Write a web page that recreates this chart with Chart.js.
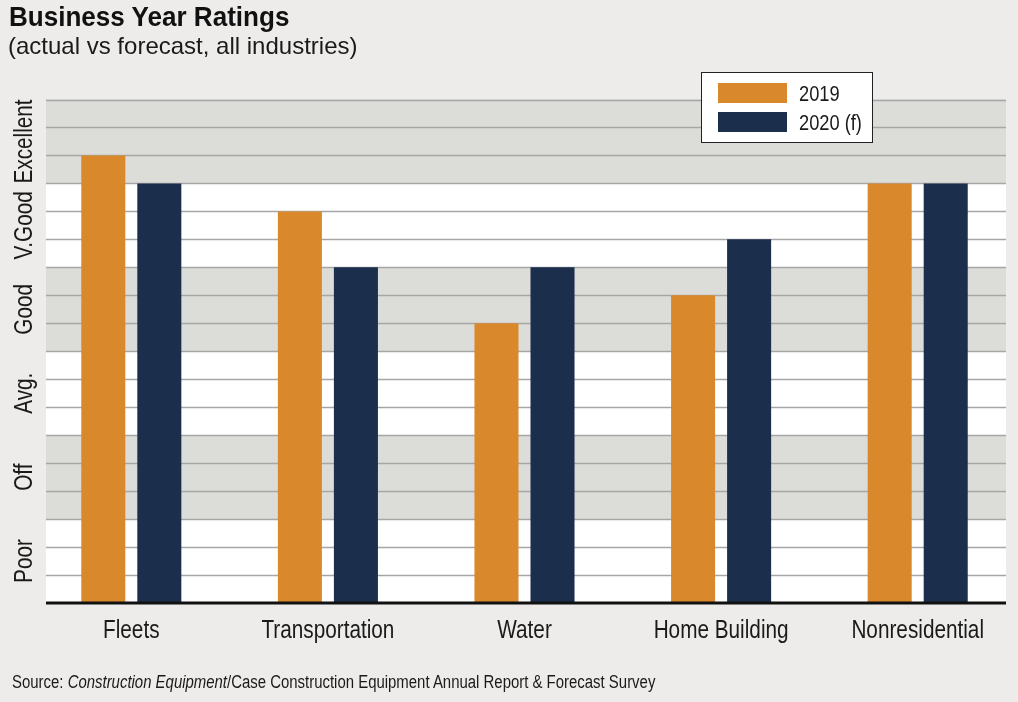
<!DOCTYPE html>
<html>
<head>
<meta charset="utf-8">
<script src="https://cdn.jsdelivr.net/npm/chart.js@4"></script>
<style>
  body { margin: 0; background: #edecea; }
  #wrap { position: relative; width: 1018px; height: 702px; overflow: hidden; }
  #grafico { position: absolute; left: 0; top: 0; }
  .titulo, .subtitulo, .fonte { position: absolute; white-space: nowrap; transform-origin: 0 0; }
  .titulo { left: 9px; top: 3px; font: bold 28px/28px 'Liberation Sans', Arial, sans-serif; color: #111; }
  .subtitulo { left: 8px; top: 34px; font: 24px/24px 'Liberation Sans', Arial, sans-serif; color: #1a1a1a; }
  .fonte { left: 12px; top: 673px; font: 18px/18px 'Liberation Sans', Arial, sans-serif; color: #1a1a1a; }
</style>
</head>
<body>
<div id="wrap">
  <canvas id="grafico" width="1018" height="702"></canvas>
  <div class="titulo" data-largura="280">Business Year Ratings</div>
  <div class="subtitulo">(actual vs forecast, all industries)</div>
  <div class="fonte" data-largura="643">Source: <i>Construction Equipment</i>/Case Construction Equipment Annual Report &amp; Forecast Survey</div>
</div>
<script>
document.addEventListener("DOMContentLoaded", function () {

    /* =========================
       DADOS
    ========================= */

    const categorias = ['Fleets', 'Transportation', 'Water', 'Home Building', 'Nonresidential'];
    const valores2019 = [16, 14, 10, 11, 15];
    const valores2020 = [15, 12, 12, 13, 15];
    const rotulosNota = ['Poor', 'Off', 'Avg.', 'Good', 'V.Good', 'Excellent'];
    const passosPorNota = 3;

    const maxY = rotulosNota.length * passosPorNota;
    const fonte = "'Liberation Sans', Arial, sans-serif";
    const estreito = 0.83; // fonte condensada "simulada"

    // area das faixas/grade (um pouco mais estreita que a area das barras)
    const gradeEsq = 46;
    const gradeDir = 1006;

    // textos em html: comprime na horizontal ate a largura do original
    document.querySelectorAll('[data-largura]').forEach(el => {
        const alvo = parseFloat(el.dataset.largura);
        el.style.transform = 'scaleX(' + (alvo / el.offsetWidth) + ')';
    });

    function textoEstreito(ctx, texto, x, y) {
        ctx.save();
        ctx.translate(x, y);
        ctx.scale(estreito, 1);
        ctx.fillText(texto, 0, 0);
        ctx.restore();
    }

    /* =========================
       FUNDO: FAIXAS + GRADE + ROTULOS
    ========================= */

    const fundoPlugin = {
        id: 'fundo',
        beforeDatasetsDraw(chart) {
            const ctx = chart.ctx;
            const y = chart.scales.y;

            // faixas alternadas
            rotulosNota.forEach((r, i) => {
                const y0 = y.getPixelForValue(i * passosPorNota);
                const y1 = y.getPixelForValue((i + 1) * passosPorNota);
                ctx.fillStyle = i % 2 === 0 ? '#ffffff' : '#dcdcd9';
                ctx.fillRect(gradeEsq, y1, gradeDir - gradeEsq, y0 - y1);
            });

            // linhas da grade
            ctx.strokeStyle = '#a6a6a6';
            ctx.lineWidth = 1.5;
            for (let v = 1; v <= maxY; v++) {
                const py = Math.round(y.getPixelForValue(v)) + 0.5;
                ctx.beginPath();
                ctx.moveTo(gradeEsq, py);
                ctx.lineTo(gradeDir, py);
                ctx.stroke();
            }

            // rotulos verticais do eixo y
            ctx.fillStyle = '#1a1a1a';
            ctx.font = '25px ' + fonte;
            ctx.textAlign = 'center';
            ctx.textBaseline = 'alphabetic';
            rotulosNota.forEach((r, i) => {
                const meio = y.getPixelForValue(i * passosPorNota + passosPorNota / 2);
                ctx.save();
                ctx.translate(32, meio);
                ctx.rotate(-Math.PI / 2);
                textoEstreito(ctx, r, 0, 0);
                ctx.restore();
            });
        },
        afterDatasetsDraw(chart) {
            const ctx = chart.ctx;
            const x = chart.scales.x;
            const y = chart.scales.y;

            // linha do eixo x
            const base = y.getPixelForValue(0);
            ctx.strokeStyle = '#111';
            ctx.lineWidth = 3;
            ctx.beginPath();
            ctx.moveTo(gradeEsq, base);
            ctx.lineTo(gradeDir, base);
            ctx.stroke();

            // rotulos das categorias
            ctx.fillStyle = '#1a1a1a';
            ctx.font = '25px ' + fonte;
            ctx.textAlign = 'center';
            ctx.textBaseline = 'alphabetic';
            categorias.forEach((c, i) => {
                textoEstreito(ctx, c, x.getPixelForValue(i), 638);
            });

            // legenda
            ctx.fillStyle = '#ffffff';
            ctx.fillRect(701, 72, 172, 71);
            ctx.strokeStyle = '#222';
            ctx.lineWidth = 1;
            ctx.strokeRect(701.5, 72.5, 171, 70);

            ctx.font = '22px ' + fonte;
            ctx.textAlign = 'left';
            ctx.textBaseline = 'alphabetic';
            chart.data.datasets.forEach((ds, i) => {
                const ly = 83 + i * 29;
                ctx.fillStyle = ds.backgroundColor;
                ctx.fillRect(718, ly, 69, 20);
                ctx.fillStyle = '#1a1a1a';
                textoEstreito(ctx, ds.label, 799, ly + 18);
            });
        }
    };

    /* =========================
       GRAFICO DE BARRAS
    ========================= */

    const ctxBarra = document.getElementById("grafico");

    new Chart(ctxBarra, {
        type: 'bar',
        data: {
            labels: categorias,
            datasets: [
                {
                    label: '2019',
                    data: valores2019,
                    backgroundColor: '#d9892b',
                    categoryPercentage: 0.57,
                    barPercentage: 0.786
                },
                {
                    label: '2020 (f)',
                    data: valores2020,
                    backgroundColor: '#1b2f4d',
                    categoryPercentage: 0.57,
                    barPercentage: 0.786
                }
            ]
        },
        options: {
            responsive: false,
            animation: false,
            layout: { padding: { left: 33, right: 2, top: 99.5, bottom: 99 } },
            plugins: {
                legend: { display: false },
                tooltip: { enabled: false }
            },
            scales: {
                x: { display: false },
                y: { display: false, min: 0, max: maxY }
            }
        },
        plugins: [fundoPlugin]
    });

});
</script>
</body>
</html>
